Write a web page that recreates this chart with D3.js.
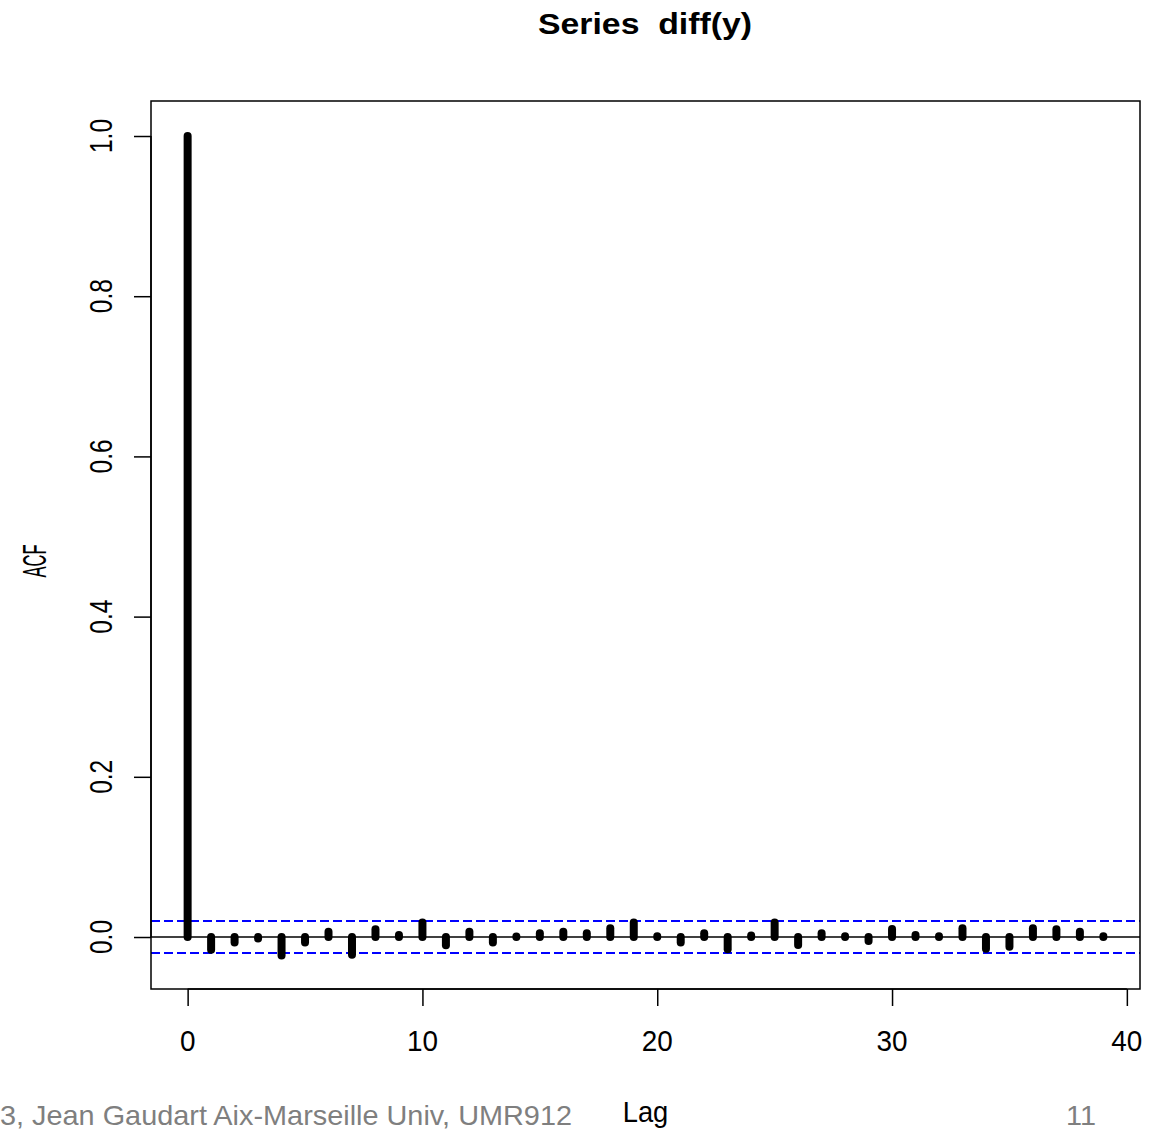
<!DOCTYPE html>
<html>
<head>
<meta charset="utf-8">
<script src="https://cdn.jsdelivr.net/npm/d3@7"></script>
<style>
  html, body { margin: 0; padding: 0; background: #ffffff; }
  svg { display: block; }
  text { font-family: "Liberation Sans", Arial, sans-serif; white-space: pre; }
</style>
</head>
<body>
<script>
// Autocorrelation of the differenced series, lags 0..39
const lags = [0, 1, 2, 3, 4, 5, 6, 7, 8, 9,
              10, 11, 12, 13, 14, 15, 16, 17, 18, 19,
              20, 21, 22, 23, 24, 25, 26, 27, 28, 29,
              30, 31, 32, 33, 34, 35, 36, 37, 38, 39];
const acfValues = [1.0, -0.016, -0.007, -0.002, -0.023, -0.007, 0.0067, -0.022, 0.0096, 0.0025,
                   0.018, -0.0104, 0.0067, -0.007, 0.0005, 0.0046, 0.0067, 0.0046, 0.011, 0.018,
                   0.001, -0.007, 0.0046, -0.0154, 0.002, 0.018, -0.010, 0.0046, 0.001, -0.005,
                   0.010, 0.0025, 0.001, 0.011, -0.0146, -0.012, 0.011, 0.0096, 0.0067, 0.001];
// 95% white-noise band
const ciBound = [-0.02, 0.02];
const xTicks = [0, 10, 20, 30, 40];
const yTicks = [0.0, 0.2, 0.4, 0.6, 0.8, 1.0];
const yTickLabels = ["0.0", "0.2", "0.4", "0.6", "0.8", "1.0"];
const titleText = "Series  diff(y)";
const xLabel = "Lag";
const yLabel = "ACF";
const footerText = "3, Jean Gaudart Aix-Marseille Univ, UMR912";
const pageNumber = "11";

const W = 1159, H = 1132;
const box = { left: 151, right: 1140, top: 101, bottom: 989 };

const svg = d3.select("body").append("svg")
  .attr("width", W).attr("height", H);

const x = d3.scaleLinear().domain([-1.56, 40.56]).range([box.left, box.right]);
const y = d3.scaleLinear().domain([-0.0649, 1.0437]).range([box.bottom, box.top]);

// dashed confidence band
svg.selectAll("line.ci").data(ciBound).enter().append("line")
  .attr("class", "ci")
  .attr("x1", box.left).attr("x2", box.right)
  .attr("y1", d => y(d)).attr("y2", d => y(d))
  .attr("stroke", "#0000ff").attr("stroke-width", 2)
  .attr("stroke-dasharray", "9,4");

// zero reference line
svg.append("line")
  .attr("x1", box.left).attr("x2", box.right)
  .attr("y1", y(0)).attr("y2", y(0))
  .attr("stroke", "#000").attr("stroke-width", 1.5);

// ACF spikes
svg.selectAll("line.spike").data(lags).enter().append("line")
  .attr("class", "spike")
  .attr("x1", d => x(d)).attr("x2", d => x(d))
  .attr("y1", y(0)).attr("y2", (d, i) => y(acfValues[i]))
  .attr("stroke", "#000").attr("stroke-width", 8)
  .attr("stroke-linecap", "round");

// plot frame
svg.append("rect")
  .attr("x", box.left).attr("y", box.top)
  .attr("width", box.right - box.left).attr("height", box.bottom - box.top)
  .attr("fill", "none").attr("stroke", "#000").attr("stroke-width", 1.5);

// x axis
const xAxis = d3.axisBottom(x).tickValues(xTicks).tickSize(17).tickFormat("");
const gx = svg.append("g").attr("transform", `translate(0,${box.bottom})`).call(xAxis);
gx.select(".domain").attr("stroke", "#000").attr("stroke-width", 1.5)
  .attr("d", `M${x(xTicks[0])},0H${x(xTicks[xTicks.length - 1])}`);
gx.selectAll(".tick line").attr("stroke", "#000").attr("stroke-width", 1.5);

svg.selectAll("text.xt").data(xTicks).enter().append("text")
  .attr("class", "xt")
  .attr("transform", d => `translate(${x(d)},1051) scale(0.93,1)`)
  .attr("text-anchor", "middle")
  .attr("font-size", 30)
  .attr("fill", "#000")
  .text(d => d);

// y axis
const yAxis = d3.axisLeft(y).tickValues(yTicks).tickSize(17).tickFormat("");
const gy = svg.append("g").attr("transform", `translate(${box.left},0)`).call(yAxis);
gy.select(".domain").attr("stroke", "#000").attr("stroke-width", 1.5)
  .attr("d", `M0,${y(yTicks[0])}V${y(yTicks[yTicks.length - 1])}`);
gy.selectAll(".tick line").attr("stroke", "#000").attr("stroke-width", 1.5);

svg.selectAll("text.yt").data(yTicks).enter().append("text")
  .attr("class", "yt")
  .attr("transform", d => `translate(112,${y(d)}) rotate(-90) scale(1,1.31)`)
  .attr("text-anchor", "middle")
  .attr("font-size", 24.5)
  .attr("fill", "#000")
  .text((d, i) => yTickLabels[i]);

// titles
svg.append("text")
  .attr("x", 538).attr("y", 34)
  .attr("font-size", 30).attr("font-weight", "bold")
  .attr("textLength", 214).attr("lengthAdjust", "spacingAndGlyphs")
  .attr("fill", "#000")
  .text(titleText);

svg.append("text")
  .attr("transform", "translate(645.5,1121.5) scale(0.91,1)")
  .attr("text-anchor", "middle")
  .attr("font-size", 30)
  .attr("fill", "#000")
  .text(xLabel);

svg.append("text")
  .attr("transform", "translate(46,561) rotate(-90) scale(1,1.25)")
  .attr("text-anchor", "middle")
  .attr("font-size", 27)
  .attr("textLength", 33).attr("lengthAdjust", "spacingAndGlyphs")
  .attr("fill", "#000")
  .text(yLabel);

// slide footer
svg.append("text")
  .attr("x", 0).attr("y", 1125)
  .attr("font-family", "'Liberation Sans Narrow', 'Liberation Sans', sans-serif")
  .attr("font-size", 28)
  .attr("textLength", 572).attr("lengthAdjust", "spacingAndGlyphs")
  .attr("fill", "#7f7f7f")
  .text(footerText);

svg.append("text")
  .attr("x", 1066).attr("y", 1125)
  .attr("font-family", "'Liberation Sans Narrow', 'Liberation Sans', sans-serif")
  .attr("font-size", 28)
  .attr("textLength", 30).attr("lengthAdjust", "spacingAndGlyphs")
  .attr("fill", "#7f7f7f")
  .text(pageNumber);
</script>
</body>
</html>
